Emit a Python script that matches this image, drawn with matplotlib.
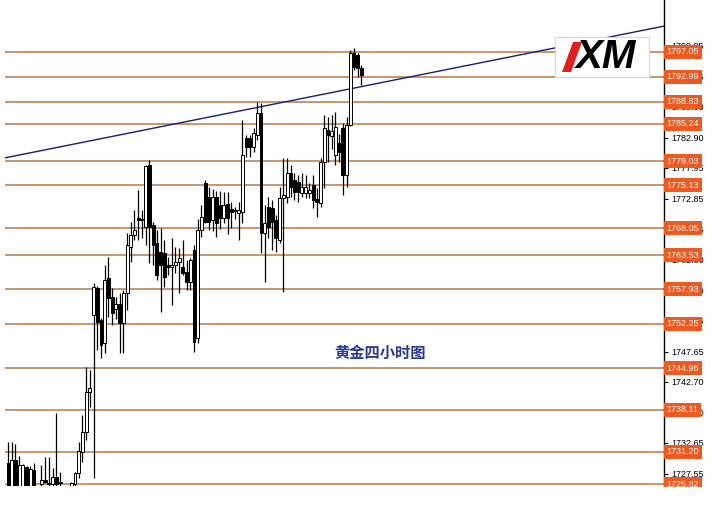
import matplotlib
matplotlib.use("Agg")
import matplotlib.pyplot as plt
from matplotlib.patches import Rectangle, Polygon

plt.rcParams['font.family'] = ['Liberation Sans', 'DejaVu Sans']

# 4H gold candles (oldest first)
opens = [1729.3, 1724.0, 1729.8, 1724.2, 1724.5, 1728.7, 1724.5, 1728.2, 1725.0, 1725.9,
         1726.6, 1725.9, 1725.9, 1727.0, 1726.3, 1725.2, 1724.0, 1725.6, 1725.9, 1727.7,
         1731.2, 1734.5, 1741.0, 1753.7, 1758.2, 1752.9, 1749.1, 1759.8, 1756.7, 1754.7,
         1755.5, 1752.4, 1757.3, 1765.0, 1766.9, 1769.7, 1769.4, 1768.2, 1778.4, 1768.5,
         1765.6, 1764.1, 1763.9, 1761.9, 1761.6, 1762.0, 1762.5, 1761.6, 1760.8, 1759.2,
         1764.4, 1749.9, 1767.7, 1775.5, 1773.2, 1769.4, 1773.2, 1771.8, 1769.7, 1772.0,
         1771.2, 1771.0, 1770.5, 1770.7, 1782.9, 1782.9, 1781.4, 1783.4, 1787.0, 1767.2,
         1771.5, 1771.3, 1769.4, 1766.1, 1773.0, 1773.2, 1777.1, 1776.0, 1775.6, 1773.8,
         1773.8, 1773.8, 1775.1, 1772.8, 1772.2, 1778.9, 1784.2, 1783.2, 1780.1, 1782.0,
         1784.5, 1776.8, 1785.0, 1796.9, 1796.5, 1794.4]
highs = [1732.8, 1732.8, 1732.5, 1730.5, 1729.2, 1728.9, 1728.9, 1729.3, 1725.3, 1729.0,
         1730.3, 1730.3, 1728.5, 1737.6, 1727.9, 1725.4, 1725.3, 1726.2, 1727.9, 1732.8,
         1737.3, 1745.2, 1744.7, 1759.0, 1758.5, 1753.2, 1761.9, 1763.3, 1758.2, 1756.7,
         1757.3, 1757.8, 1767.2, 1769.0, 1771.0, 1774.3, 1771.0, 1778.4, 1779.2, 1769.0,
         1767.7, 1768.0, 1766.1, 1763.3, 1766.4, 1764.9, 1764.8, 1766.1, 1762.8, 1763.1,
         1765.2, 1769.5, 1771.8, 1776.0, 1774.8, 1774.4, 1774.1, 1774.1, 1773.9, 1773.9,
         1772.3, 1771.5, 1772.3, 1785.8, 1783.4, 1783.4, 1784.5, 1788.8, 1788.6, 1771.8,
         1773.2, 1772.7, 1770.2, 1774.8, 1779.6, 1779.6, 1778.4, 1777.1, 1776.8, 1777.1,
         1776.8, 1775.5, 1776.8, 1774.6, 1779.6, 1786.7, 1786.3, 1786.6, 1787.2, 1783.5,
         1785.3, 1786.3, 1797.4, 1797.7, 1796.9, 1794.9]
lows = [1723.0, 1723.0, 1723.0, 1723.5, 1723.5, 1723.5, 1723.5, 1723.5, 1723.0, 1725.6,
        1726.0, 1725.4, 1725.4, 1725.4, 1725.0, 1723.0, 1723.0, 1725.0, 1725.0, 1726.9,
        1729.5, 1733.1, 1738.6, 1726.9, 1748.0, 1746.6, 1747.5, 1753.4, 1752.1, 1753.0,
        1747.5, 1747.5, 1754.5, 1762.5, 1766.1, 1766.1, 1766.4, 1765.2, 1762.3, 1762.0,
        1759.5, 1754.2, 1758.3, 1760.3, 1755.4, 1760.6, 1757.3, 1760.3, 1757.8, 1757.8,
        1747.6, 1749.1, 1766.6, 1768.9, 1767.7, 1767.6, 1766.6, 1767.9, 1768.9, 1767.0,
        1768.0, 1769.5, 1766.1, 1768.9, 1779.7, 1779.7, 1780.6, 1782.5, 1763.9, 1759.2,
        1766.4, 1764.4, 1764.1, 1765.6, 1757.5, 1772.2, 1773.2, 1772.7, 1772.3, 1773.2,
        1773.0, 1773.0, 1771.3, 1769.9, 1771.5, 1774.6, 1778.9, 1781.0, 1778.4, 1779.0,
        1773.5, 1774.8, 1784.8, 1794.1, 1792.9, 1791.6]
closes = [1724.0, 1729.8, 1724.2, 1729.0, 1729.0, 1724.5, 1728.4, 1724.5, 1724.0, 1726.5,
          1726.2, 1726.1, 1727.0, 1725.9, 1726.0, 1724.0, 1725.0, 1726.0, 1727.7, 1731.3,
          1734.5, 1741.0, 1741.7, 1758.3, 1752.6, 1748.8, 1759.5, 1756.5, 1754.0, 1755.5,
          1752.4, 1757.3, 1765.2, 1766.9, 1767.7, 1769.4, 1769.6, 1778.3, 1768.2, 1765.2,
          1760.3, 1762.0, 1760.0, 1761.6, 1762.0, 1762.5, 1763.1, 1760.6, 1759.2, 1762.8,
          1749.3, 1767.7, 1769.9, 1769.0, 1769.0, 1773.2, 1768.9, 1769.7, 1771.8, 1769.7,
          1770.7, 1770.8, 1771.0, 1780.1, 1781.4, 1781.4, 1783.7, 1787.0, 1767.2, 1768.9,
          1768.2, 1769.0, 1766.4, 1773.0, 1773.5, 1777.1, 1774.8, 1774.0, 1774.0, 1774.8,
          1774.8, 1774.3, 1772.7, 1772.3, 1778.9, 1784.5, 1783.4, 1784.0, 1784.7, 1780.6,
          1776.8, 1785.0, 1796.9, 1794.6, 1794.4, 1793.3]

# support / resistance levels drawn on the chart
levels = [1797.05, 1792.99, 1788.83, 1785.24, 1779.03, 1775.13, 1768.05,
          1763.53, 1757.93, 1752.25, 1744.96, 1738.11, 1731.20, 1725.82]
# price scale ticks
ticks = [1727.55, 1732.65, 1737.60, 1742.70, 1747.65, 1752.75, 1757.70, 1762.80,
         1767.75, 1772.85, 1777.95, 1782.90, 1788.00, 1792.95, 1798.05]
# trend line end points (bar index, price)
trend_x = [-0.8, 176.3]
trend_y = [1779.6, 1801.3]
title = "黄金四小时图"

fig = plt.figure(figsize=(7.17, 5.21), dpi=100)
ax = fig.add_axes([5/717, 35/521, 659/717, 486/521])
ax.set_xlim(-0.8, 176.3)
ax.set_ylim(1725.56, 1805.6)

for lv in levels:
    ax.axhline(lv, color='#b8784a', lw=1.1, zorder=1)

ax.plot(trend_x, trend_y, color='#1c1c6e', lw=1, zorder=2)

idx = list(range(len(opens)))
ax.vlines(idx, lows, highs, color='black', lw=0.9, zorder=3)
for i in idx:
    o, c = opens[i], closes[i]
    h = max(abs(c - o), 0.15)
    fc = 'white' if c >= o else 'black'
    ax.bar(i, h, bottom=min(o, c), width=0.78, color=fc,
           edgecolor='black', linewidth=0.7, zorder=4)

# right price scale
for s in ['top', 'left', 'bottom']:
    ax.spines[s].set_visible(False)
ax.spines['right'].set_linewidth(1.0)
ax.set_xticks([])
ax.yaxis.tick_right()
ax.set_yticks(ticks)
ax.set_yticklabels(["%.2f" % t for t in ticks])
ax.tick_params(axis='y', length=3, width=0.8, pad=2, labelsize=6.5, colors='black')

tr = ax.get_yaxis_transform()
for lv in levels:
    ax.text(1.004, lv, "%.2f" % lv, transform=tr, ha='left', va='center',
            fontsize=6.5, color='white', zorder=6,
            bbox=dict(boxstyle='square,pad=0.28', fc='#ec5a22', ec='none'))

ax.text(0.569, 0.274, title, transform=ax.transAxes, ha='center', va='center',
        fontsize=11, fontweight='bold', color='#2a3990',
        family=['Noto Sans CJK SC', 'DejaVu Sans'])

# XM logo box
W, H = 717.0, 521.0
fig.patches.append(Rectangle((555/W, 1 - 77/H), 94/W, 40/H, transform=fig.transFigure,
                             fc='white', ec='#d8d8d8', lw=0.8, zorder=5))
fig.patches.append(Polygon([(562/W, 1 - 72/H), (571/W, 1 - 72/H), (582/W, 1 - 42/H),
                            (573/W, 1 - 42/H)], closed=True, transform=fig.transFigure,
                           fc='#e0201c', ec='none', zorder=6))
fig.text(576/W, 1 - 57/H, "XM", fontsize=29, fontweight='bold', style='italic',
         color='black', ha='left', va='center', zorder=7)

# chart window ends at the bottom
fig.patches.append(Rectangle((0, 0), 1, 34/H, transform=fig.transFigure,
                             fc='white', ec='none', zorder=8))

fig.savefig("out.png", dpi=100)
